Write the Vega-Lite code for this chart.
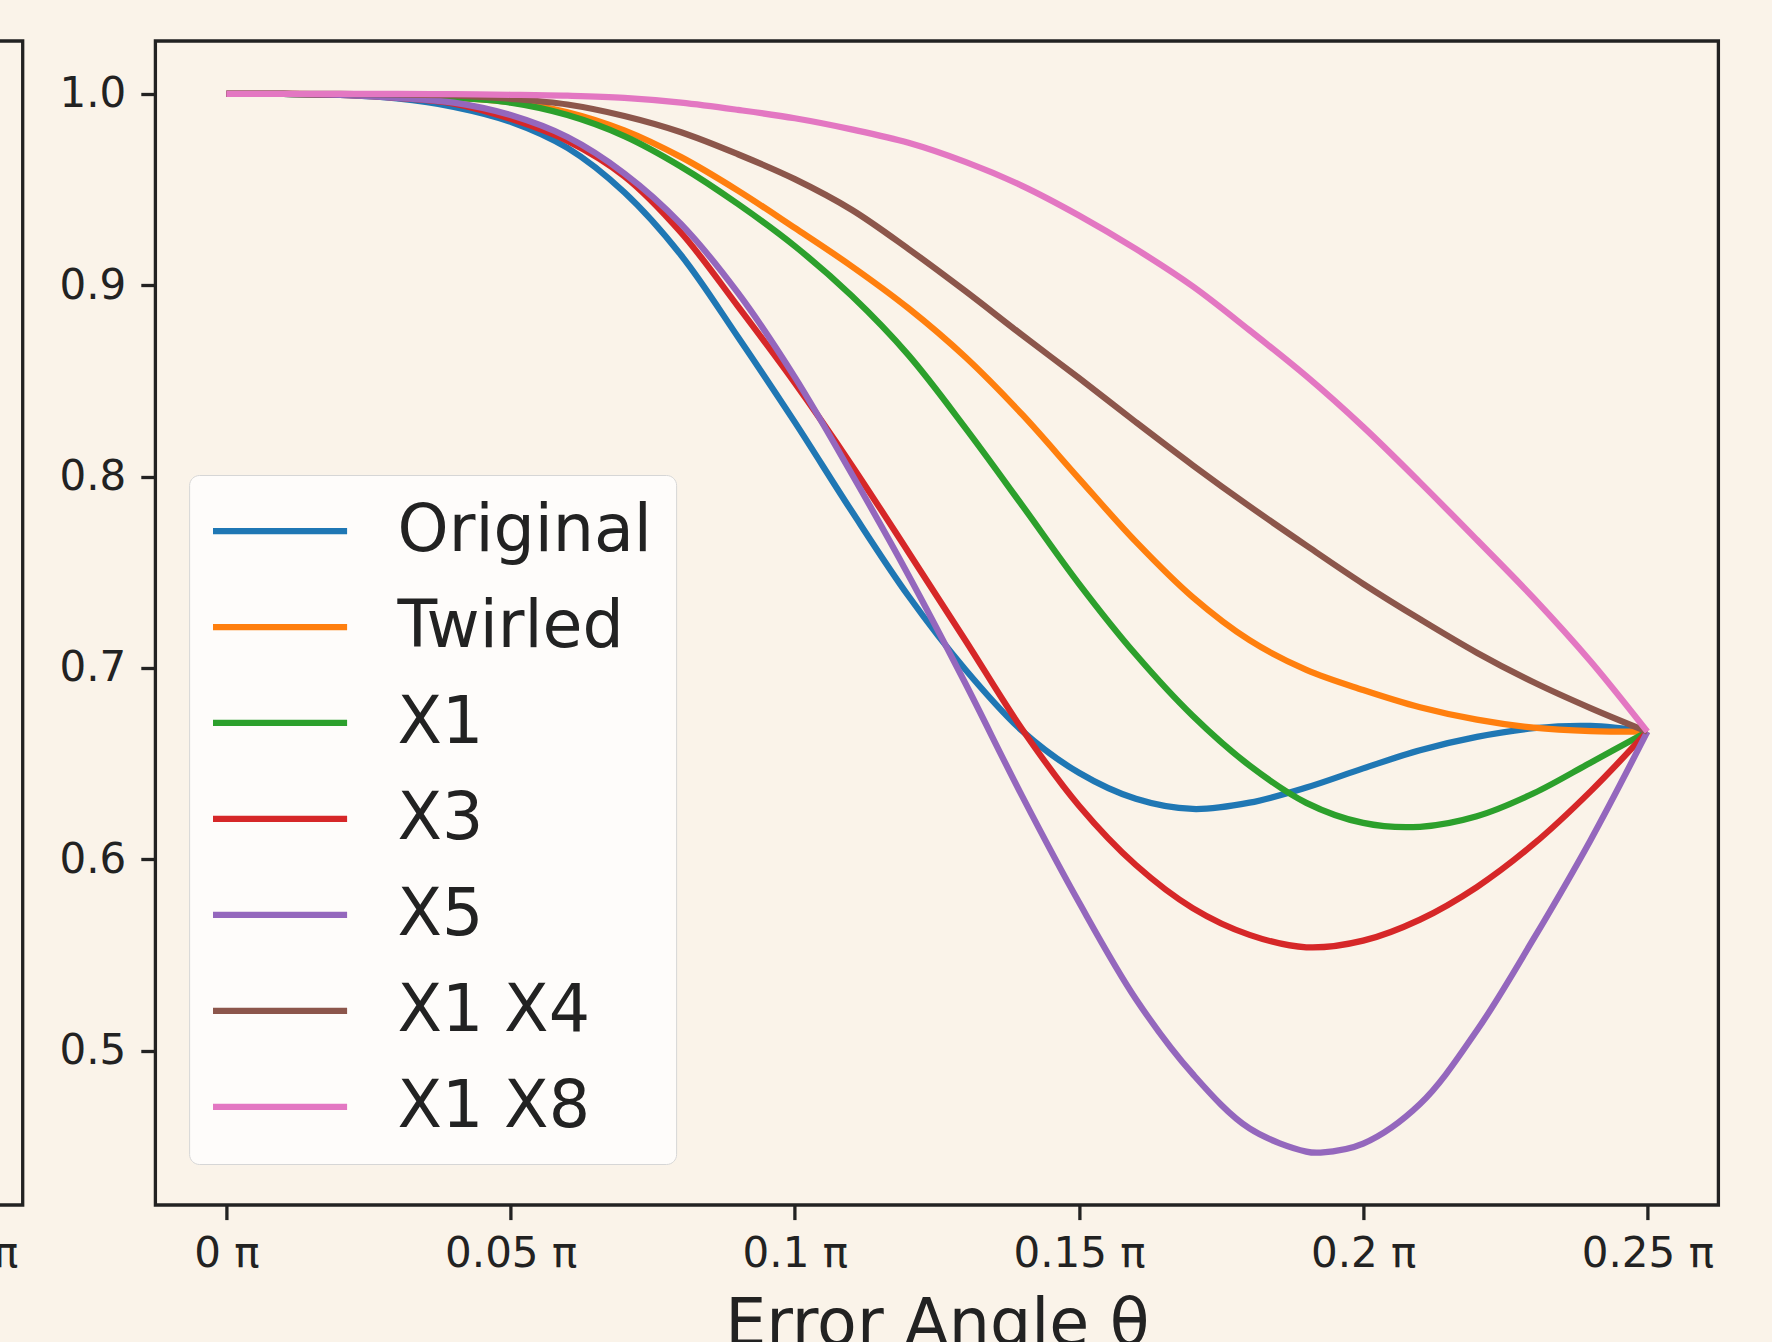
{
 "$schema": "https://vega.github.io/schema/vega-lite/v6.json",
 "autosize": {"type": "pad"},
 "padding": {"left": -1542.3, "top": 39, "right": 54.6, "bottom": -16},
 "spacing": 31.7,
 "background": "#FAF3E9",
 "config": {"view": {"stroke": "#222222", "strokeWidth": 3.3, "fill": "#FAF3E9"}, "font": "DejaVu Sans"},
 "resolve": {"scale": {"color": "independent"}, "legend": {"color": "independent"}},
 "datasets": {
  "curves": [
   {"s":"Original","t":0,"v":1},{"s":"Original","t":0.01,"v":1},{"s":"Original","t":0.02,"v":0.9995},{"s":"Original","t":0.03,"v":0.9977},{"s":"Original","t":0.04,"v":0.9933},{"s":"Original","t":0.05,"v":0.9855},{"s":"Original","t":0.06,"v":0.9718},{"s":"Original","t":0.07,"v":0.9486},{"s":"Original","t":0.08,"v":0.9157},{"s":"Original","t":0.09,"v":0.873},{"s":"Original","t":0.1,"v":0.8285},{"s":"Original","t":0.11,"v":0.782},{"s":"Original","t":0.12,"v":0.7376},{"s":"Original","t":0.13,"v":0.6992},{"s":"Original","t":0.14,"v":0.6671},{"s":"Original","t":0.15,"v":0.6452},{"s":"Original","t":0.16,"v":0.6316},{"s":"Original","t":0.17,"v":0.6263},{"s":"Original","t":0.18,"v":0.6296},{"s":"Original","t":0.19,"v":0.6375},{"s":"Original","t":0.2,"v":0.6475},{"s":"Original","t":0.21,"v":0.657},{"s":"Original","t":0.22,"v":0.664},{"s":"Original","t":0.23,"v":0.6685},{"s":"Original","t":0.24,"v":0.6697},{"s":"Original","t":0.25,"v":0.6667},
   {"s":"Twirled","t":0,"v":1},{"s":"Twirled","t":0.01,"v":1},{"s":"Twirled","t":0.02,"v":0.9998},{"s":"Twirled","t":0.03,"v":0.9992},{"s":"Twirled","t":0.04,"v":0.998},{"s":"Twirled","t":0.05,"v":0.9958},{"s":"Twirled","t":0.06,"v":0.9905},{"s":"Twirled","t":0.07,"v":0.981},{"s":"Twirled","t":0.08,"v":0.967},{"s":"Twirled","t":0.09,"v":0.9495},{"s":"Twirled","t":0.1,"v":0.93},{"s":"Twirled","t":0.11,"v":0.91},{"s":"Twirled","t":0.12,"v":0.888},{"s":"Twirled","t":0.13,"v":0.8625},{"s":"Twirled","t":0.14,"v":0.8325},{"s":"Twirled","t":0.15,"v":0.799},{"s":"Twirled","t":0.16,"v":0.766},{"s":"Twirled","t":0.17,"v":0.737},{"s":"Twirled","t":0.18,"v":0.7145},{"s":"Twirled","t":0.19,"v":0.699},{"s":"Twirled","t":0.2,"v":0.6885},{"s":"Twirled","t":0.21,"v":0.6795},{"s":"Twirled","t":0.22,"v":0.673},{"s":"Twirled","t":0.23,"v":0.6688},{"s":"Twirled","t":0.24,"v":0.667},{"s":"Twirled","t":0.25,"v":0.6667},
   {"s":"X1","t":0,"v":1},{"s":"X1","t":0.01,"v":1},{"s":"X1","t":0.02,"v":0.9998},{"s":"X1","t":0.03,"v":0.999},{"s":"X1","t":0.04,"v":0.998},{"s":"X1","t":0.05,"v":0.9955},{"s":"X1","t":0.06,"v":0.989},{"s":"X1","t":0.07,"v":0.978},{"s":"X1","t":0.08,"v":0.962},{"s":"X1","t":0.09,"v":0.9425},{"s":"X1","t":0.1,"v":0.9205},{"s":"X1","t":0.11,"v":0.8945},{"s":"X1","t":0.12,"v":0.8635},{"s":"X1","t":0.13,"v":0.8255},{"s":"X1","t":0.14,"v":0.785},{"s":"X1","t":0.15,"v":0.744},{"s":"X1","t":0.16,"v":0.707},{"s":"X1","t":0.17,"v":0.675},{"s":"X1","t":0.18,"v":0.649},{"s":"X1","t":0.19,"v":0.6295},{"s":"X1","t":0.2,"v":0.619},{"s":"X1","t":0.21,"v":0.617},{"s":"X1","t":0.22,"v":0.6225},{"s":"X1","t":0.23,"v":0.6345},{"s":"X1","t":0.24,"v":0.6505},{"s":"X1","t":0.25,"v":0.6667},
   {"s":"X3","t":0,"v":1},{"s":"X3","t":0.01,"v":1},{"s":"X3","t":0.02,"v":0.9995},{"s":"X3","t":0.03,"v":0.998},{"s":"X3","t":0.04,"v":0.995},{"s":"X3","t":0.05,"v":0.987},{"s":"X3","t":0.06,"v":0.9755},{"s":"X3","t":0.07,"v":0.957},{"s":"X3","t":0.08,"v":0.9275},{"s":"X3","t":0.09,"v":0.889},{"s":"X3","t":0.1,"v":0.849},{"s":"X3","t":0.11,"v":0.806},{"s":"X3","t":0.12,"v":0.7605},{"s":"X3","t":0.13,"v":0.7145},{"s":"X3","t":0.14,"v":0.668},{"s":"X3","t":0.15,"v":0.628},{"s":"X3","t":0.16,"v":0.597},{"s":"X3","t":0.17,"v":0.5745},{"s":"X3","t":0.18,"v":0.5605},{"s":"X3","t":0.19,"v":0.554},{"s":"X3","t":0.2,"v":0.5575},{"s":"X3","t":0.21,"v":0.5685},{"s":"X3","t":0.22,"v":0.5855},{"s":"X3","t":0.23,"v":0.608},{"s":"X3","t":0.24,"v":0.6355},{"s":"X3","t":0.25,"v":0.6667},
   {"s":"X5","t":0,"v":1},{"s":"X5","t":0.01,"v":1},{"s":"X5","t":0.02,"v":0.9995},{"s":"X5","t":0.03,"v":0.998},{"s":"X5","t":0.04,"v":0.9955},{"s":"X5","t":0.05,"v":0.989},{"s":"X5","t":0.06,"v":0.9775},{"s":"X5","t":0.07,"v":0.9585},{"s":"X5","t":0.08,"v":0.932},{"s":"X5","t":0.09,"v":0.896},{"s":"X5","t":0.1,"v":0.852},{"s":"X5","t":0.11,"v":0.8015},{"s":"X5","t":0.12,"v":0.7485},{"s":"X5","t":0.13,"v":0.692},{"s":"X5","t":0.14,"v":0.633},{"s":"X5","t":0.15,"v":0.5775},{"s":"X5","t":0.16,"v":0.527},{"s":"X5","t":0.17,"v":0.4878},{"s":"X5","t":0.18,"v":0.4593},{"s":"X5","t":0.19,"v":0.4472},{"s":"X5","t":0.1925,"v":0.4467},{"s":"X5","t":0.2,"v":0.4514},{"s":"X5","t":0.21,"v":0.4721},{"s":"X5","t":0.22,"v":0.5105},{"s":"X5","t":0.23,"v":0.5585},{"s":"X5","t":0.24,"v":0.61},{"s":"X5","t":0.25,"v":0.6667},
   {"s":"X1 X4","t":0,"v":1},{"s":"X1 X4","t":0.01,"v":1},{"s":"X1 X4","t":0.02,"v":1},{"s":"X1 X4","t":0.03,"v":0.9998},{"s":"X1 X4","t":0.04,"v":0.9993},{"s":"X1 X4","t":0.05,"v":0.9975},{"s":"X1 X4","t":0.06,"v":0.9945},{"s":"X1 X4","t":0.07,"v":0.9885},{"s":"X1 X4","t":0.08,"v":0.98},{"s":"X1 X4","t":0.09,"v":0.9685},{"s":"X1 X4","t":0.1,"v":0.9555},{"s":"X1 X4","t":0.11,"v":0.9395},{"s":"X1 X4","t":0.12,"v":0.919},{"s":"X1 X4","t":0.13,"v":0.897},{"s":"X1 X4","t":0.14,"v":0.874},{"s":"X1 X4","t":0.15,"v":0.8515},{"s":"X1 X4","t":0.16,"v":0.8285},{"s":"X1 X4","t":0.17,"v":0.806},{"s":"X1 X4","t":0.18,"v":0.7845},{"s":"X1 X4","t":0.19,"v":0.764},{"s":"X1 X4","t":0.2,"v":0.744},{"s":"X1 X4","t":0.21,"v":0.7255},{"s":"X1 X4","t":0.22,"v":0.708},{"s":"X1 X4","t":0.23,"v":0.6925},{"s":"X1 X4","t":0.24,"v":0.679},{"s":"X1 X4","t":0.25,"v":0.6667},
   {"s":"X1 X8","t":0,"v":1},{"s":"X1 X8","t":0.01,"v":1},{"s":"X1 X8","t":0.02,"v":1},{"s":"X1 X8","t":0.03,"v":1},{"s":"X1 X8","t":0.04,"v":0.9999},{"s":"X1 X8","t":0.05,"v":0.9996},{"s":"X1 X8","t":0.06,"v":0.9991},{"s":"X1 X8","t":0.07,"v":0.998},{"s":"X1 X8","t":0.08,"v":0.9955},{"s":"X1 X8","t":0.09,"v":0.9917},{"s":"X1 X8","t":0.1,"v":0.9873},{"s":"X1 X8","t":0.11,"v":0.9815},{"s":"X1 X8","t":0.12,"v":0.9745},{"s":"X1 X8","t":0.13,"v":0.9645},{"s":"X1 X8","t":0.14,"v":0.952},{"s":"X1 X8","t":0.15,"v":0.9365},{"s":"X1 X8","t":0.16,"v":0.919},{"s":"X1 X8","t":0.17,"v":0.8995},{"s":"X1 X8","t":0.18,"v":0.8765},{"s":"X1 X8","t":0.19,"v":0.8525},{"s":"X1 X8","t":0.2,"v":0.826},{"s":"X1 X8","t":0.21,"v":0.797},{"s":"X1 X8","t":0.22,"v":0.767},{"s":"X1 X8","t":0.23,"v":0.7365},{"s":"X1 X8","t":0.24,"v":0.7035},{"s":"X1 X8","t":0.25,"v":0.6667}
  ]
 },
 "hconcat": [
  {
   "width": 1563,
   "height": 1164,
   "data": {"name": "curves"},
   "mark": {"type": "line", "strokeWidth": 6.25, "interpolate": "catmull-rom"},
   "encoding": {
    "x": {"field": "t", "type": "quantitative",
     "scale": {"domain": [-0.0125, 0.2625], "nice": false, "zero": false},
     "axis": {"values": [0, 0.05, 0.1, 0.15, 0.2, 0.25], "labelExpr": "format(datum.value, '.2~f') + ' π'",
      "title": null, "grid": false, "domain": false, "tickSize": 14.6, "tickWidth": 3.3, "tickColor": "#222222",
      "labelFontSize": 42, "labelColor": "#222222", "labelPadding": 14, "labelFlush": false}},
    "y": {"field": "v", "type": "quantitative",
     "scale": {"domain": [0.4193, 1.0277], "nice": false, "zero": false}, "axis": null},
    "color": {"field": "s", "type": "nominal",
     "scale": {"domain": ["Original", "Twirled", "X1", "X3", "X5", "X1 X4", "X1 X8"],
      "range": ["#1f77b4", "#ff7f0e", "#2ca02c", "#d62728", "#9467bd", "#8c564b", "#e377c2"]},
     "legend": null}
   }
  },
  {
   "width": 1563,
   "height": 1164,
   "data": {"name": "curves"},
   "mark": {"type": "line", "strokeWidth": 6.25, "interpolate": "catmull-rom"},
   "encoding": {
    "x": {"field": "t", "type": "quantitative",
     "scale": {"domain": [-0.0125, 0.2625], "nice": false, "zero": false},
     "axis": {"values": [0, 0.05, 0.1, 0.15, 0.2, 0.25], "labelExpr": "format(datum.value, '.2~f') + ' π'",
      "title": "Error Angle θ", "grid": false, "domain": false, "tickSize": 14.6, "tickWidth": 3.3, "tickColor": "#222222",
      "labelFontSize": 42, "labelColor": "#222222", "labelPadding": 14, "labelFlush": false,
      "titleFontSize": 65, "titleFontWeight": "normal", "titleColor": "#222222", "titleBaseline": "alphabetic", "titleY": 140}},
    "y": {"field": "v", "type": "quantitative",
     "scale": {"domain": [0.4193, 1.0277], "nice": false, "zero": false},
     "axis": {"values": [0.5, 0.6, 0.7, 0.8, 0.9, 1.0], "format": ".1f", "title": null, "grid": false, "domain": false,
      "tickSize": 14.6, "tickWidth": 3.3, "tickColor": "#222222", "labelFontSize": 42, "labelColor": "#222222", "labelPadding": 15}},
    "color": {"field": "s", "type": "nominal",
     "scale": {"domain": ["Original", "Twirled", "X1", "X3", "X5", "X1 X4", "X1 X8"],
      "range": ["#1f77b4", "#ff7f0e", "#2ca02c", "#d62728", "#9467bd", "#8c564b", "#e377c2"]},
     "legend": {"title": null, "orient": "none", "legendX": 33.7, "legendY": 434,
      "symbolType": "stroke", "symbolSize": 18225, "symbolStrokeWidth": 6.25, "symbolOffset": -4.5, "labelFontSize": 65, "labelColor": "#222222",
      "labelOffset": 47, "labelLimit": 1000, "clipHeight": 64, "rowPadding": 31, "padding": 24,
      "fillColor": "#FEFCFA", "strokeColor": "#D6D6D6", "cornerRadius": 10}}
   }
  }
 ]
}
